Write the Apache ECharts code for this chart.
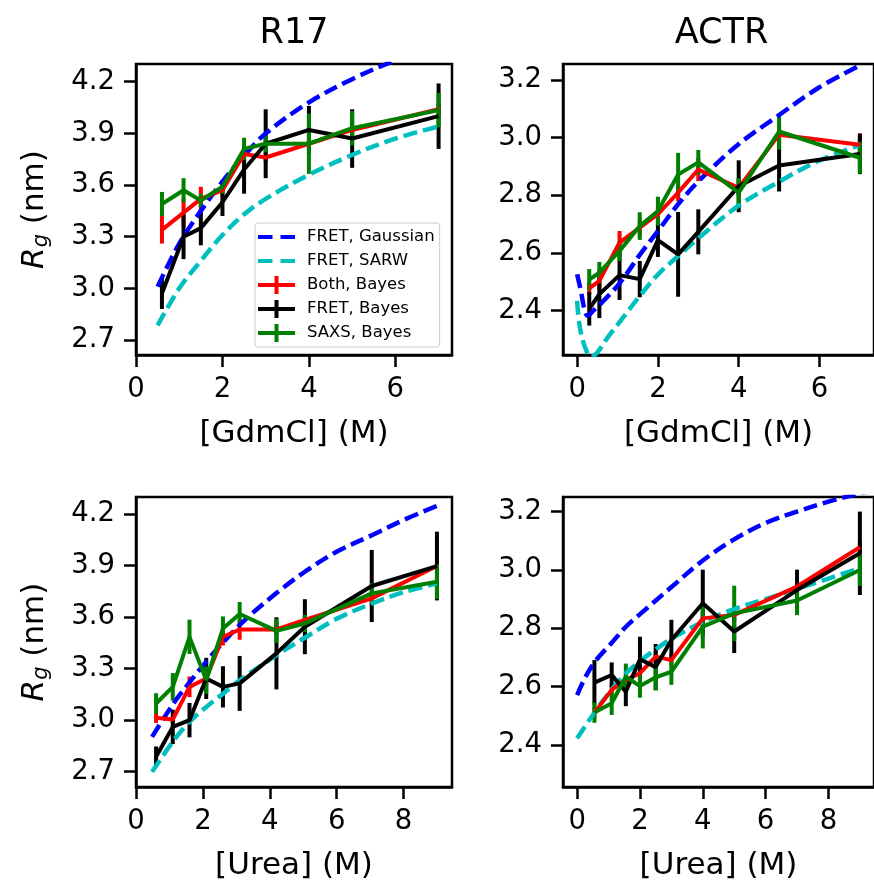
<!DOCTYPE html>
<html><head><meta charset="utf-8">
<script src="https://cdn.jsdelivr.net/npm/echarts@6/dist/echarts.min.js"></script>
<style>html,body{margin:0;padding:0;background:#fff}#c{width:874px;height:884px}</style>
</head><body><div id="c"></div>
<script>
// ---------- DATA ----------
const panelTitles = ['R17', 'ACTR'];
const xLabelGdm = '[GdmCl] (M)';
const xLabelUrea = '[Urea] (M)';
const seriesNames = ['FRET, Gaussian', 'FRET, SARW', 'Both, Bayes', 'FRET, Bayes', 'SAXS, Bayes'];

const xTicksGdm = [0, 2, 4, 6];
const xTicksUrea = [0, 2, 4, 6, 8];
const yTicksR17 = [2.7, 3.0, 3.3, 3.6, 3.9, 4.2];
const yTicksACTR = [2.4, 2.6, 2.8, 3.0, 3.2];

// Panel 1: R17, GdmCl
const r17GdmX = [0.6, 1.1, 1.5, 2.0, 2.5, 3.0, 4.0, 5.0, 7.0];
const r17GdmBoth = [3.34, 3.44, 3.52, 3.57, 3.78, 3.76, 3.84, 3.92, 4.04];
const r17GdmBothErr = [0.08, 0.08, 0.07, 0.04, 0.04, 0.03, 0.03, 0.03, 0.03];
const r17GdmFret = [2.97, 3.30, 3.35, 3.50, 3.69, 3.84, 3.92, 3.87, 4.00];
const r17GdmFretErr = [0.09, 0.13, 0.10, 0.08, 0.14, 0.20, 0.14, 0.17, 0.19];
const r17GdmSaxs = [3.49, 3.57, 3.51, 3.59, 3.81, 3.84, 3.84, 3.93, 4.035];
const r17GdmSaxsErr = [0.07, 0.07, 0.04, 0.04, 0.065, 0.05, 0.175, 0.10, 0.10];
const r17GdmGauss = [[0.5, 3.01], [1.0, 3.26], [1.5, 3.45], [2.0, 3.62], [2.5, 3.77], [3.0, 3.90], [4.0, 4.08], [5.0, 4.215], [6.0, 4.325], [7.0, 4.42]];
const r17GdmSarw = [[0.5, 2.785], [1.0, 3.0], [1.5, 3.16], [2.0, 3.31], [2.5, 3.43], [3.0, 3.52], [4.0, 3.66], [5.0, 3.775], [6.0, 3.87], [7.0, 3.94]];

// Panel 2: ACTR, GdmCl
const actrGdmX = [0.3, 0.55, 1.05, 1.55, 2.0, 2.5, 3.0, 4.0, 5.0, 7.0];
const actrGdmBoth = [2.477, 2.503, 2.636, 2.688, 2.734, 2.809, 2.889, 2.826, 3.01, 2.975];
const actrGdmBothErr = [0.02, 0.03, 0.04, 0.03, 0.03, 0.03, 0.04, 0.03, 0.03, 0.04];
const actrGdmFret = [2.406, 2.457, 2.523, 2.509, 2.644, 2.595, 2.673, 2.831, 2.903, 2.943];
const actrGdmFretErr = [0.058, 0.083, 0.086, 0.063, 0.058, 0.147, 0.078, 0.09, 0.09, 0.07];
const actrGdmSaxs = [2.507, 2.532, 2.607, 2.693, 2.745, 2.872, 2.914, 2.809, 3.021, 2.93];
const actrGdmSaxsErr = [0.037, 0.037, 0.035, 0.048, 0.05, 0.075, 0.043, 0.05, 0.063, 0.055];
const actrGdmGauss = [[0, 2.526], [0.1, 2.463], [0.18, 2.405], [0.26, 2.382], [0.4, 2.40], [0.62, 2.429], [1.07, 2.498], [1.56, 2.595], [2.05, 2.685], [2.53, 2.774], [3.05, 2.855], [3.98, 2.975], [4.95, 3.073], [5.96, 3.171], [6.97, 3.248]];
const actrGdmSarw = [[0, 2.434], [0.06, 2.348], [0.18, 2.279], [0.34, 2.24], [0.5, 2.255], [0.7, 2.296], [1.11, 2.371], [1.56, 2.452], [2.0, 2.525], [2.51, 2.59], [3.02, 2.653], [3.98, 2.762], [4.95, 2.843], [5.96, 2.918], [6.97, 2.972]];

// Panel 3: R17, Urea
const r17UreaX = [0.6, 1.1, 1.6, 2.1, 2.6, 3.1, 4.2, 5.05, 7.05, 9.0];
const r17UreaBoth = [3.014, 3.004, 3.194, 3.243, 3.485, 3.528, 3.528, 3.583, 3.709, 3.897];
const r17UreaBothErr = [0.03, 0.02, 0.06, 0.03, 0.05, 0.06, 0.03, 0.03, 0.03, 0.03];
const r17UreaFret = [2.787, 2.961, 3.0, 3.243, 3.194, 3.214, 3.389, 3.544, 3.781, 3.897];
const r17UreaFretErr = [0.06, 0.1, 0.1, 0.12, 0.12, 0.16, 0.21, 0.16, 0.21, 0.2];
const r17UreaSaxs = [3.097, 3.194, 3.485, 3.233, 3.534, 3.618, 3.52, 3.563, 3.738, 3.806];
const r17UreaSaxsErr = [0.06, 0.08, 0.1, 0.08, 0.07, 0.07, 0.07, 0.05, 0.06, 0.1];
const r17UreaGauss = [[0.48, 2.903], [1.12, 3.097], [1.6, 3.22], [2.12, 3.345], [2.64, 3.46], [3.31, 3.593], [4.2, 3.74], [5.05, 3.864], [6.0, 3.98], [7.07, 4.078], [8.0, 4.165], [9.0, 4.247]];
const r17UreaSarw = [[0.48, 2.699], [1.12, 2.88], [1.6, 2.99], [2.12, 3.08], [2.64, 3.16], [3.09, 3.23], [4.21, 3.38], [5.05, 3.48], [6.0, 3.59], [7.07, 3.68], [8.0, 3.745], [9.0, 3.796]];

// Panel 4: ACTR, Urea
const actrUreaX = [0.55, 1.1, 1.55, 2.0, 2.5, 3.0, 4.0, 5.0, 7.0, 9.0];
const actrUreaBoth = [2.511, 2.589, 2.623, 2.646, 2.703, 2.691, 2.834, 2.846, 2.943, 3.078];
const actrUreaBothErr = [0.02, 0.02, 0.02, 0.02, 0.02, 0.02, 0.02, 0.02, 0.02, 0.02];
const actrUreaFret = [2.614, 2.64, 2.583, 2.694, 2.667, 2.76, 2.886, 2.789, 2.931, 3.057];
const actrUreaFretErr = [0.077, 0.043, 0.05, 0.077, 0.079, 0.069, 0.115, 0.074, 0.07, 0.143];
const actrUreaSaxs = [2.511, 2.543, 2.634, 2.602, 2.632, 2.651, 2.806, 2.851, 2.895, 3.0];
const actrUreaSaxsErr = [0.035, 0.04, 0.045, 0.04, 0.045, 0.045, 0.075, 0.095, 0.05, 0.055];
const actrUreaGauss = [[0, 2.571], [0.25, 2.63], [0.57, 2.686], [1.09, 2.749], [1.56, 2.806], [2.03, 2.851], [3.02, 2.943], [3.96, 3.029], [4.97, 3.103], [5.98, 3.16], [7.0, 3.2], [8.0, 3.234], [9.0, 3.262], [9.45, 3.272]];
const actrUreaSarw = [[0, 2.423], [0.57, 2.514], [1.09, 2.589], [1.56, 2.646], [2.03, 2.69], [2.53, 2.73], [3.02, 2.765], [3.96, 2.82], [4.97, 2.865], [6.0, 2.9], [7.0, 2.935], [9.0, 3.006]];

// ---------- STYLE ----------
const F = 'DejaVu Sans';
const C = {gauss: '#0000ff', sarw: '#00bfbf', both: '#ff0000', fret: '#000000', saxs: '#008000'};
const TICK_FS = 27.5, NAME_FS = 31, TITLE_FS = 35;
const SOLID_W = 4, BAR_W = 4, DASH_W = 4.5;

const panels = [
  {x: r17GdmX, both: r17GdmBoth, bothE: r17GdmBothErr, fret: r17GdmFret, fretE: r17GdmFretErr, saxs: r17GdmSaxs, saxsE: r17GdmSaxsErr, gauss: r17GdmGauss, sarw: r17GdmSarw},
  {x: actrGdmX, both: actrGdmBoth, bothE: actrGdmBothErr, fret: actrGdmFret, fretE: actrGdmFretErr, saxs: actrGdmSaxs, saxsE: actrGdmSaxsErr, gauss: actrGdmGauss, sarw: actrGdmSarw},
  {x: r17UreaX, both: r17UreaBoth, bothE: r17UreaBothErr, fret: r17UreaFret, fretE: r17UreaFretErr, saxs: r17UreaSaxs, saxsE: r17UreaSaxsErr, gauss: r17UreaGauss, sarw: r17UreaSarw},
  {x: actrUreaX, both: actrUreaBoth, bothE: actrUreaBothErr, fret: actrUreaFret, fretE: actrUreaFretErr, saxs: actrUreaSaxs, saxsE: actrUreaSaxsErr, gauss: actrUreaGauss, sarw: actrUreaSarw}
];

const grids = [
  {left: 136, top: 64, width: 316, height: 291},
  {left: 563, top: 64, width: 317, height: 291},
  {left: 136, top: 497, width: 316, height: 290},
  {left: 563, top: 497, width: 317, height: 290}
];
const xRanges = [[0, 7.31], [-0.35, 7.35], [0.0, 9.45], [-0.45, 9.45]];
const yRanges = [[2.613, 4.303], [2.246, 3.255], [2.611, 4.299], [2.256, 3.250]];
const xTicks = [xTicksGdm, xTicksGdm, xTicksUrea, xTicksUrea];
const yTicks = [yTicksR17, yTicksACTR, yTicksR17, yTicksACTR];
const xNames = [xLabelGdm, xLabelGdm, xLabelUrea, xLabelUrea];

function xAxis(i) {
  return {
    type: 'value', gridIndex: i, min: xRanges[i][0], max: xRanges[i][1],
    name: xNames[i], nameLocation: 'middle', nameGap: 63,
    nameTextStyle: {fontFamily: F, fontSize: NAME_FS, color: '#000'},
    axisLine: {show: true, onZero: false, lineStyle: {color: '#000', width: 2.5}},
    axisTick: {show: true, length: 12, lineStyle: {color: '#000', width: 2.5}, customValues: xTicks[i]},
    axisLabel: {fontFamily: F, fontSize: TICK_FS, color: '#000', margin: 21, customValues: xTicks[i], formatter: v => String(Math.round(v))},
    splitLine: {show: false}
  };
}
function yAxis(i) {
  const ax = {
    type: 'value', gridIndex: i, min: yRanges[i][0], max: yRanges[i][1],
    axisLine: {show: true, onZero: false, lineStyle: {color: '#000', width: 2.5}},
    axisTick: {show: true, length: 12, lineStyle: {color: '#000', width: 2.5}, customValues: yTicks[i]},
    axisLabel: {fontFamily: F, fontSize: TICK_FS, color: '#000', margin: 21, customValues: yTicks[i], formatter: v => v.toFixed(1)},
    splitLine: {show: false}
  };
  if (i === 0 || i === 2) {
    ax.name = '{i|R}{s|g}{n| (nm)}';
    ax.nameLocation = 'middle';
    ax.nameGap = 84;
    ax.nameTextStyle = {
      fontFamily: F, fontSize: NAME_FS, color: '#000',
      rich: {
        i: {fontFamily: F, fontSize: NAME_FS, fontStyle: 'italic', color: '#000'},
        s: {fontFamily: F, fontSize: 21, fontStyle: 'italic', color: '#000', padding: [13, 0, 0, 0]},
        n: {fontFamily: F, fontSize: NAME_FS, color: '#000'}
      }
    };
  }
  return ax;
}

function lineS(name, color, data, gi, dashed) {
  return {
    type: 'line', name, xAxisIndex: gi, yAxisIndex: gi, data,
    symbol: 'none', smooth: dashed ? 0.35 : false, clip: true,
    lineStyle: {color, width: dashed ? DASH_W : SOLID_W, type: dashed ? [14, 6] : 'solid', cap: 'butt'},
    itemStyle: {color}, z: 3, silent: true
  };
}
function errS(name, color, xs, ys, es, gi) {
  return {
    type: 'custom', name, xAxisIndex: gi, yAxisIndex: gi,
    data: xs.map((x, k) => [x, ys[k], es[k]]),
    encode: {x: 0, y: 1},
    renderItem: (params, api) => {
      const x = api.value(0), y = api.value(1), e = api.value(2);
      const a = api.coord([x, y - e]), b = api.coord([x, y + e]);
      return {type: 'line', shape: {x1: a[0], y1: a[1], x2: b[0], y2: b[1]}, style: {stroke: color, lineWidth: BAR_W}};
    },
    itemStyle: {color}, z: 3, silent: true
  };
}

const series = [];
panels.forEach((p, gi) => {
  series.push(lineS(seriesNames[0], C.gauss, p.gauss, gi, true));
  series.push(lineS(seriesNames[1], C.sarw, p.sarw, gi, true));
  series.push(lineS(seriesNames[2], C.both, p.x.map((x, k) => [x, p.both[k]]), gi, false));
  series.push(errS(seriesNames[2], C.both, p.x, p.both, p.bothE, gi));
  series.push(lineS(seriesNames[3], C.fret, p.x.map((x, k) => [x, p.fret[k]]), gi, false));
  series.push(errS(seriesNames[3], C.fret, p.x, p.fret, p.fretE, gi));
  series.push(lineS(seriesNames[4], C.saxs, p.x.map((x, k) => [x, p.saxs[k]]), gi, false));
  series.push(errS(seriesNames[4], C.saxs, p.x, p.saxs, p.saxsE, gi));
});

const dashIcon = 'path://M0 0h0.01v0.01H0z M37 18h0.01v0.01H37z M0 7h14.5v4H0z M22.5 7h14.5v4H22.5z';
const barIcon = 'path://M0 7h37v4H0z M16.5 0h4v18h-4z';
const legendColors = [C.gauss, C.sarw, C.both, C.fret, C.saxs];

const option = {
  animation: false,
  backgroundColor: '#fff',
  grid: grids.map(g => Object.assign({show: true, borderColor: '#000', borderWidth: 2.5, backgroundColor: 'transparent'}, g)),
  xAxis: [0, 1, 2, 3].map(xAxis),
  yAxis: [0, 1, 2, 3].map(yAxis),
  legend: {
    orient: 'vertical', left: 255, top: 223, itemWidth: 37, itemHeight: 18, itemGap: 6,
    padding: [5, 5, 5, 3], backgroundColor: 'rgba(255,255,255,0.8)',
    borderColor: '#cccccc', borderWidth: 1, borderRadius: 3,
    selectedMode: false,
    textStyle: {fontFamily: F, fontSize: 16.5, color: '#000', padding: [0, 0, 0, 7]},
    data: seriesNames.map((n, k) => ({
      name: n, icon: k < 2 ? dashIcon : barIcon,
      itemStyle: {color: legendColors[k], borderWidth: 0}
    }))
  },
  graphic: [
    {type: 'text', x: 294, y: 34, style: {text: panelTitles[0], font: TITLE_FS + 'px "DejaVu Sans"', fill: '#000', textAlign: 'center', textVerticalAlign: 'middle'}},
    {type: 'text', x: 721.5, y: 34, style: {text: panelTitles[1], font: TITLE_FS + 'px "DejaVu Sans"', fill: '#000', textAlign: 'center', textVerticalAlign: 'middle'}}
  ],
  series
};

const chart = echarts.init(document.getElementById('c'), null, {renderer: 'canvas'});
chart.setOption(option);
</script>
</body></html>
